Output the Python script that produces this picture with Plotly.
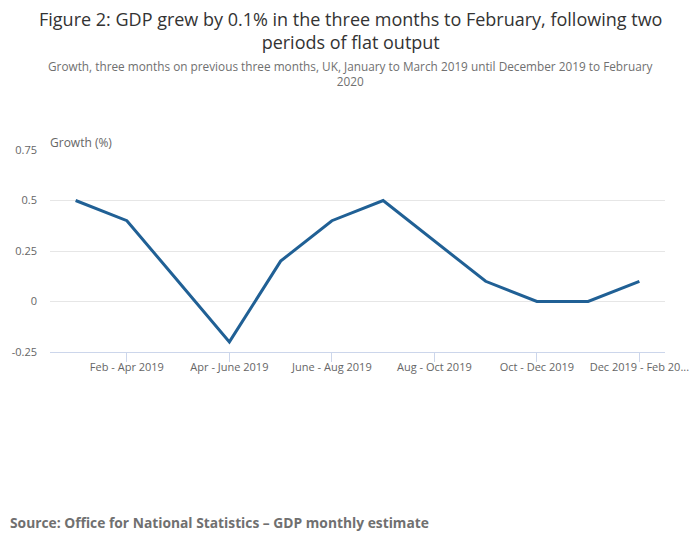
import plotly.graph_objects as go

periods = ["Jan - Mar 2019", "Feb - Apr 2019", "Mar - May 2019", "Apr - June 2019",
           "May - July 2019", "June - Aug 2019", "July - Sep 2019", "Aug - Oct 2019",
           "Sep - Nov 2019", "Oct - Dec 2019", "Nov 2019 - Jan 2020", "Dec 2019 - Feb 2020"]
growth = [0.5, 0.4, 0.1, -0.2, 0.2, 0.4, 0.5, 0.3, 0.1, 0.0, 0.0, 0.1]
tick_idx = [1, 3, 5, 7, 9, 11]
tick_text = ["Feb - Apr 2019", "Apr - June 2019", "June - Aug 2019", "Aug - Oct 2019",
             "Oct - Dec 2019", "Dec 2019 - Feb 20..."]
y_ticks = [-0.25, 0, 0.25, 0.5, 0.75]
y_tick_text = ["-0.25", "0", "0.25", "0.5", "0.75"]

# page body adds an 8px offset; build the figure in shifted coordinates
OFF = 8
W, H = 700 - OFF, 549 - OFF
L = 50 - OFF
T = 150 - OFF
R = W - (665 - OFF)
B = H - (352 - OFF)
PW = W - L - R
PH = H - T - B


def px_x(xr):
    return (xr - OFF - L) / PW


def px_y(yr):
    return ((H - B) - (yr - OFF)) / PH


fig = go.Figure()
fig.add_trace(go.Scatter(
    x=list(range(len(periods))), y=growth, mode="lines",
    line=dict(color="#206095", width=3),
    text=periods, hovertemplate="%{text}: %{y}<extra></extra>",
    showlegend=False,
))

fig.update_layout(
    width=W, height=H,
    margin=dict(l=L, r=R, t=T, b=B, autoexpand=False),
    paper_bgcolor="white", plot_bgcolor="white",
    font=dict(family="Open Sans", color="#666666"),
    xaxis=dict(
        range=[-0.5, 11.5], tickmode="array", tickvals=tick_idx, ticktext=tick_text,
        showgrid=False, zeroline=False, showline=True, linecolor="#ccd6eb", linewidth=1,
        ticks="outside", ticklen=9, tickcolor="#ccd6eb", tickwidth=1,
        ticklabelstandoff=-4,
        tickfont=dict(size=11, color="#666666"), fixedrange=True,
    ),
    yaxis=dict(
        range=[-0.25, 0.75], tickmode="array", tickvals=y_ticks, ticktext=y_tick_text,
        showgrid=True, gridcolor="#e6e6e6", gridwidth=1, zeroline=False, showline=False,
        ticks="", ticklabelstandoff=12,
        tickfont=dict(size=11, color="#666666"), fixedrange=True,
    ),
    annotations=[
        dict(text="Figure 2: GDP grew by 0.1% in the three months to February, following two<br>periods of flat output",
             xref="paper", yref="paper", x=px_x(350), y=px_y(5),
             xanchor="center", yanchor="top", showarrow=False, align="center",
             font=dict(size=18, color="#333333")),
        dict(text="Growth, three months on previous three months, UK, January to March 2019 until December 2019 to February<br>2020",
             xref="paper", yref="paper", x=px_x(350), y=px_y(56),
             xanchor="center", yanchor="top", showarrow=False, align="center",
             font=dict(size=11.8, color="#707070")),
        dict(text="Growth (%)", xref="paper", yref="paper", x=px_x(48), y=px_y(132),
             xanchor="left", yanchor="top", showarrow=False,
             font=dict(size=12, color="#666666")),
        dict(text="<b>Source: Office for National Statistics – GDP monthly estimate</b>",
             xref="paper", yref="paper", x=px_x(8), y=px_y(511),
             xanchor="left", yanchor="top", showarrow=False,
             font=dict(size=13.8, color="#707070")),
    ],
)

fig.write_html("out.html")
